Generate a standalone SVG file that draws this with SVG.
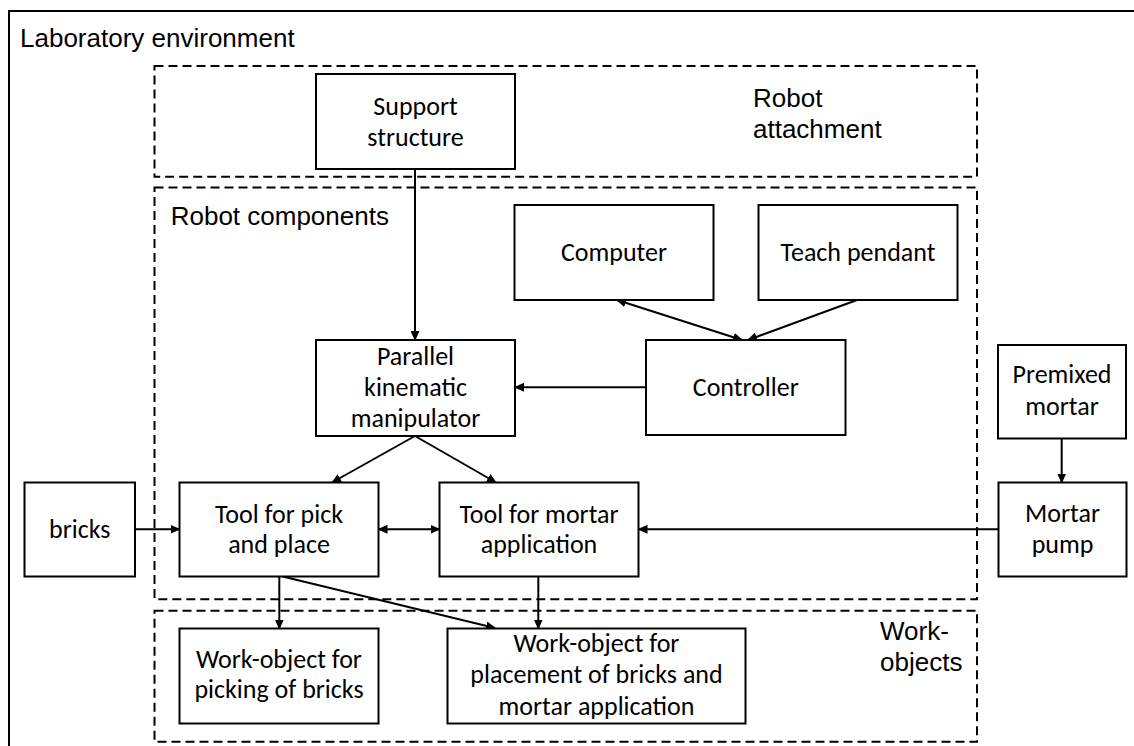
<svg xmlns="http://www.w3.org/2000/svg" width="1134" height="746" viewBox="0 0 1134 746">
<defs>
<style>
.frame{fill:none;stroke:#000;stroke-width:2}
.dash{fill:none;stroke:#000;stroke-width:2;stroke-dasharray:9 5}
.box{fill:#fff;stroke:#000;stroke-width:2}
.lbl{font-family:"Liberation Sans",Arial,sans-serif;font-size:26px;fill:#000}
.nt{font-family:Carlito,Calibri,Lato,sans-serif;font-size:26px;fill:#000;text-anchor:middle}
.con{fill:none;stroke:#000;stroke-width:2}
</style>
<marker id="ah" markerUnits="userSpaceOnUse" markerWidth="10" markerHeight="9" refX="9" refY="4.5" orient="auto-start-reverse">
<path d="M0,0 L10,4.5 L0,9 Z" fill="#000"/>
</marker>
</defs>
<rect width="1134" height="746" fill="#fff"/>
<g id="laboratory-environment">
<rect class="frame" x="9" y="11" width="1140" height="760"/>
<text class="lbl" x="20" y="47">Laboratory environment</text>
</g>
<g id="robot-attachment">
<rect class="dash" x="154.5" y="66" width="822.5" height="110.7"/>
<text class="lbl" x="753" y="107.3">Robot</text>
<text class="lbl" x="753" y="138.3">attachment</text>
</g>
<g id="robot-components">
<rect class="dash" x="154.5" y="187.5" width="822.5" height="411.8"/>
<text class="lbl" x="170.7" y="225">Robot components</text>
</g>
<g id="work-objects">
<rect class="dash" x="154.5" y="610.7" width="822.5" height="131"/>
<text class="lbl" x="880" y="640">Work-</text>
<text class="lbl" x="880" y="671">objects</text>
</g>
<g id="connectors">
<line class="con" x1="415" y1="169" x2="415" y2="340" marker-end="url(#ah)"/>
<line class="con" x1="646" y1="387.3" x2="515" y2="387.3" marker-end="url(#ah)"/>
<line class="con" x1="617" y1="300" x2="742" y2="340" marker-start="url(#ah)" marker-end="url(#ah)"/>
<line class="con" x1="857" y1="300" x2="748" y2="340" marker-end="url(#ah)"/>
<line class="con" x1="415" y1="436" x2="332" y2="482.5" marker-end="url(#ah)"/>
<line class="con" x1="415" y1="436" x2="496" y2="482.5" marker-end="url(#ah)"/>
<line class="con" x1="135" y1="529.3" x2="179.5" y2="529.3" marker-end="url(#ah)"/>
<line class="con" x1="378.5" y1="529.3" x2="439.5" y2="529.3" marker-start="url(#ah)" marker-end="url(#ah)"/>
<line class="con" x1="998.5" y1="529.3" x2="638.5" y2="529.3" marker-end="url(#ah)"/>
<line class="con" x1="1061.7" y1="438.5" x2="1061.7" y2="482.5" marker-end="url(#ah)"/>
<line class="con" x1="279.3" y1="576.5" x2="279.3" y2="628.5" marker-end="url(#ah)"/>
<line class="con" x1="282.7" y1="576.5" x2="495" y2="628" marker-end="url(#ah)"/>
<line class="con" x1="538.3" y1="576.5" x2="538.3" y2="628.5" marker-end="url(#ah)"/>
</g>
<g id="support-structure">
<rect class="box" x="316" y="74" width="199" height="95"/>
<text class="nt" x="415.5" y="115">Support</text>
<text class="nt" x="415.5" y="146">structure</text>
</g>
<g id="computer">
<rect class="box" x="514.5" y="205" width="199" height="95"/>
<text class="nt" x="614" y="261">Computer</text>
</g>
<g id="teach-pendant">
<rect class="box" x="758.5" y="205" width="199" height="95"/>
<text class="nt" x="858" y="261">Teach pendant</text>
</g>
<g id="parallel-kinematic-manipulator">
<rect class="box" x="316" y="340" width="199" height="96"/>
<text class="nt" x="415.5" y="365">Parallel</text>
<text class="nt" x="415.5" y="396">kinematic</text>
<text class="nt" x="415.5" y="427">manipulator</text>
</g>
<g id="controller">
<rect class="box" x="646" y="340" width="199.5" height="95"/>
<text class="nt" x="745.8" y="396">Controller</text>
</g>
<g id="premixed-mortar">
<rect class="box" x="998" y="345" width="128" height="93.5"/>
<text class="nt" x="1062" y="383.3">Premixed</text>
<text class="nt" x="1062" y="415">mortar</text>
</g>
<g id="bricks">
<rect class="box" x="24.5" y="482.5" width="110.5" height="94"/>
<text class="nt" x="79.7" y="538.3">bricks</text>
</g>
<g id="tool-pick-place">
<rect class="box" x="179.5" y="482.5" width="199" height="94"/>
<text class="nt" x="279" y="522.7">Tool for pick</text>
<text class="nt" x="279" y="553.3">and place</text>
</g>
<g id="tool-mortar">
<rect class="box" x="439.5" y="482.5" width="199" height="94"/>
<text class="nt" x="539" y="522.7">Tool for mortar</text>
<text class="nt" x="539" y="553.3">application</text>
</g>
<g id="mortar-pump">
<rect class="box" x="998.5" y="482.5" width="128" height="94"/>
<text class="nt" x="1062.5" y="521.7">Mortar</text>
<text class="nt" x="1062.5" y="552.7">pump</text>
</g>
<g id="work-object-picking">
<rect class="box" x="179.5" y="628.5" width="199" height="95"/>
<text class="nt" x="279" y="667.7">Work-object for</text>
<text class="nt" x="279" y="698.3">picking of bricks</text>
</g>
<g id="work-object-placement">
<rect class="box" x="447.5" y="628.5" width="298" height="95"/>
<text class="nt" x="596.5" y="652">Work-object for</text>
<text class="nt" x="596.5" y="683.3">placement of bricks and</text>
<text class="nt" x="596.5" y="715">mortar application</text>
</g>
</svg>
